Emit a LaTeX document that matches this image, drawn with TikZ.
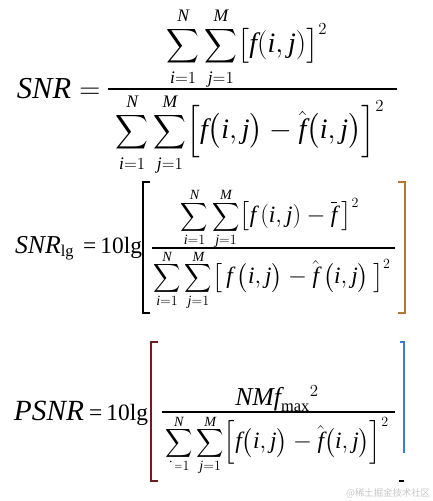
\documentclass[tikz,border=0pt]{standalone}
\usepackage{amsmath}
\usepackage{graphicx}
\usepackage{fontspec}
\setmainfont{Liberation Serif}
\newfontfamily\cjk{Noto Sans CJK SC}
\DeclareMathSizes{24}{24}{15}{12}
\DeclareMathSizes{22}{22}{14}{11}
\DeclareMathSizes{20}{20}{12}{10}
\definecolor{brorange}{HTML}{B8752E}
\definecolor{brblue}{HTML}{3A80D0}
\definecolor{brred}{HTML}{6E1C1C}
\definecolor{markgray}{HTML}{C6C6C6}
\newcommand{\tsum}{\mathop{\scalebox{0.78}[0.82]{$\displaystyle\sum$}}\limits}
\newcommand{\tightops}{\fontdimen13\textfont3=0pt\relax}
\newcommand{\tighterops}{\fontdimen9\textfont3=1.5pt\fontdimen10\textfont3=1.2pt
    \fontdimen11\textfont3=1.5pt\fontdimen12\textfont3=0pt\fontdimen13\textfont3=0pt\relax}
\newcommand{\fij}{\mathit{f}(\mathit{i},\mathit{j})}
\tikzset{
    every node/.style={inner sep=0pt, outer sep=0pt},
    lhs/.style={anchor=base west, font=\fontsize{25}{30}\selectfont},
    lhsbig/.style={anchor=base west, font=\fontsize{26}{30}\selectfont},
    lhssmall/.style={anchor=base west, font=\fontsize{22}{26}\selectfont},
    eqpart/.style={anchor=base east, font=\fontsize{20}{24}\selectfont},
    termbig/.style={font=\fontsize{24}{28}\selectfont},
    term/.style={font=\fontsize{20}{24}\selectfont},
    fracbar/.style={line width=1pt},
    bracket/.style={line width=1.4pt}
}

\begin{document}
\begin{tikzpicture}[x=0.03cm, y=-0.03cm]
    \useasboundingbox (0,0) rectangle (433,501);

    \node (snr) [lhsbig] at (17, 98) {$\mathit{SNR}=$};
    \node (snrnum) [termbig, anchor=south] at (247, 87) {$\tightops\tsum_{\mathit{i}=1}^{\mathit{N}}\tsum_{\mathit{j}=1}^{\mathit{M}}\bigl[\fij\bigr]^{2}$};
    \node (snrden) [termbig, anchor=north] at (250, 96) {$\tightops\tsum_{\mathit{i}=1}^{\mathit{N}}\tsum_{\mathit{j}=1}^{\mathit{M}}\Bigl[\mathit{f}\bigl(\mathit{i},\mathit{j}\bigr)-\hat{\mathit{f}}\bigl(\mathit{i},\mathit{j}\bigr)\Bigr]^{2}$};
    \coordinate (snrbarw) at (108, 89);
    \coordinate (snrbare) at (397, 89);
    \draw[fracbar] (snrbarw) -- (snrbare);

    \node (snrlg) [lhssmall] at (15, 253) {$\mathit{SNR}_{\mathrm{lg}}$};
    \node (lgeq) [eqpart] at (142, 253) {=\,10lg};
    \node (lgnum) [term, anchor=south] at (270, 247) {$\tighterops\tsum_{\mathit{i}=1}^{\mathit{N}}\tsum_{\mathit{j}=1}^{\mathit{M}}\bigl[\mathit{f}\,(\mathit{i},\mathit{j})-\overline{\mathit{f}}\,\bigr]^{2}$};
    \node (lgden) [term, anchor=north] at (272, 252) {$\tighterops\tsum_{\mathit{i}=1}^{\mathit{N}}\tsum_{\mathit{j}=1}^{\mathit{M}}\bigl[\,\mathit{f}\,\bigl(\mathit{i},\mathit{j}\bigr)-\hat{\mathit{f}}\,\bigl(\mathit{i},\mathit{j}\bigr)\,\bigr]^{2}$};
    \coordinate (lgbarw) at (152, 248);
    \coordinate (lgbare) at (395, 248);
    \draw[fracbar] (lgbarw) -- (lgbare);
    \draw[bracket] (150, 182) -| (143, 313) -- (150, 313);
    \draw[bracket, brorange] (398, 182) -| (405, 313) -- (398, 313);

    \node (psnr) [lhs] at (14, 420) {$\mathit{PSNR}$};
    \node (psnreq) [eqpart] at (148, 420) {\,=\,10lg};
    \node (psnrnum) [anchor=base, font=\fontsize{22}{26}\selectfont] at (277, 405) {$\mathit{NMf}_{\max}{}^{2}$};
    \node (psnrden) [term, anchor=north] at (277, 417) {$\tighterops\tsum_{\mathit{i}=1}^{\mathit{N}}\tsum_{\mathit{j}=1}^{\mathit{M}}\Bigl[\mathit{f}\bigl(\mathit{i},\mathit{j}\bigr)-\hat{\mathit{f}}\bigl(\mathit{i},\mathit{j}\bigr)\Bigr]^{2}$};
    \coordinate (psnrbarw) at (162, 412);
    \coordinate (psnrbare) at (395, 412);
    \draw[fracbar] (psnrbarw) -- (psnrbare);
    \draw[bracket, brred] (158, 342) -| (151, 481) -- (158, 481);
    \draw[bracket, brblue] (400, 342) -| (404, 453);
    \draw[bracket] (399, 481) -- (404, 481);
    \fill[white] (160, 463) rectangle (175, 471);

    \node (mark) [anchor=east, font=\cjk\fontsize{8}{9}\selectfont, text=markgray] at (430, 493) {@稀土掘金技术社区};
\end{tikzpicture}
\end{document}
